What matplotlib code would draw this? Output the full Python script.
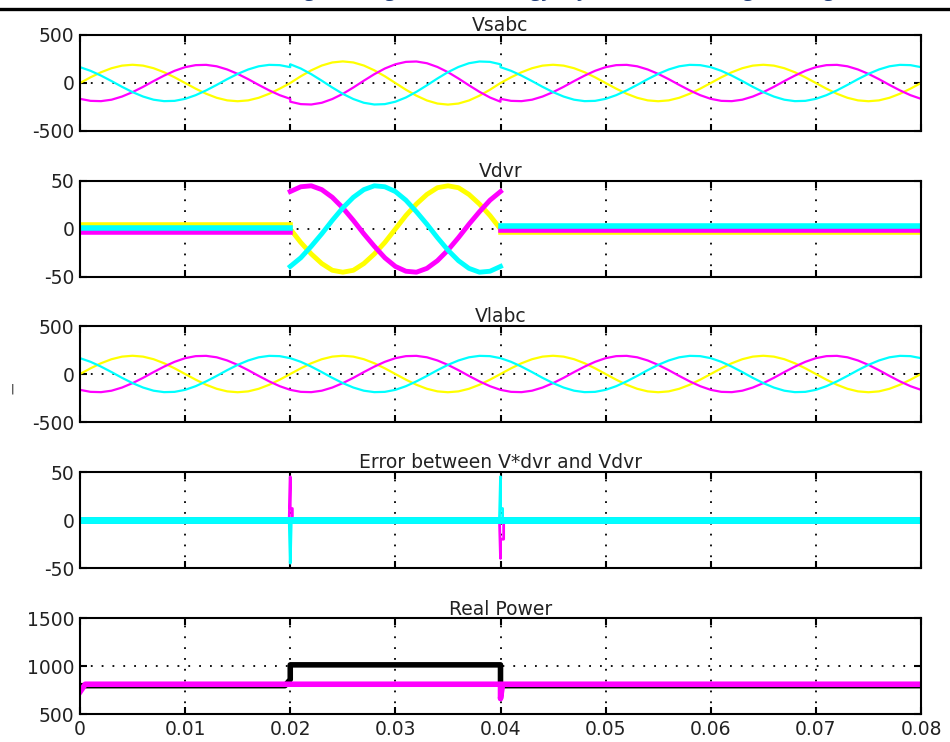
import numpy as np
import matplotlib.pyplot as plt
from matplotlib.lines import Line2D

# one 20 ms cycle of load voltage, read every 1 ms (yellow, magenta, cyan)
vlCycleA = [0, 59, 112, 154, 181, 190, 181, 154, 112, 59, 0, -59, -112, -154, -181, -190, -181, -154, -112, -59]
vlCycleB = [-165, -186, -189, -174, -141, -95, -40, 20, 77, 127, 165, 186, 189, 174, 141, 95, 40, -20, -77, -127]
vlCycleC = [165, 127, 77, 20, -40, -95, -141, -174, -189, -186, -165, -127, -77, -20, 40, 95, 141, 174, 189, 186]

# source voltage during the swell (0.02 - 0.04 s)
vsSwellA = [0, 70, 132, 182, 214, 225, 214, 182, 132, 70, 0, -70, -132, -182, -214, -225, -214, -182, -132, -70]
vsSwellB = [-195, -220, -224, -206, -167, -113, -47, 24, 92, 151, 195, 220, 224, 206, 167, 113, 47, -24, -92, -151]
vsSwellC = [195, 151, 92, 24, -47, -113, -167, -206, -224, -220, -195, -151, -92, -24, 47, 113, 167, 206, 224, 220]

# injected dvr voltage during the swell
vdvrSwellA = [0, -14, -26, -36, -43, -45, -43, -36, -26, -14, 0, 14, 26, 36, 43, 45, 43, 36, 26, 14]
vdvrSwellB = [39, 44, 45, 41, 33, 22, 9, -5, -18, -30, -39, -44, -45, -41, -33, -22, -9, 5, 18, 30]
vdvrSwellC = [-39, -30, -18, -5, 9, 22, 33, 41, 45, 44, 39, 30, 18, 5, -9, -22, -33, -41, -45, -44]
# ripple level of dvr voltage outside the swell (before, after)
vdvrRestA = [4, -3]
vdvrRestB = [-3, -1]
vdvrRestC = [1, 3]

# error between reference and dvr voltage, spikes at switching instants
errMagT = [0.0199, 0.02, 0.02, 0.0202, 0.0202, 0.0399, 0.04, 0.04, 0.0403, 0.0403]
errMagV = [0, 45, 12, 12, 0, 0, -40, -20, -20, 0]
errCyanT = [0.0199, 0.02, 0.0201, 0.0399, 0.04, 0.04, 0.0402, 0.0402]
errCyanV = [0, -45, 0, 0, 45, 12, 12, 0]

# real power
pLoadT = [0, 0.0195, 0.02, 0.02, 0.04, 0.04, 0.08]
pLoadV = [795, 795, 860, 1012, 1012, 795, 795]
pSrcT = [0, 0.0005, 0.0399, 0.04, 0.04, 0.0402, 0.08]
pSrcV = [730, 810, 810, 810, 660, 810, 810]

titles = ["Vsabc", "Vdvr", "Vlabc", "Error between V*dvr and Vdvr", "Real Power"]
yLimits = [(-500, 500), (-50, 50), (-500, 500), (-50, 50), (500, 1500)]
xTicks = [0, 0.01, 0.02, 0.03, 0.04, 0.05, 0.06, 0.07, 0.08]
xTickLabels = ["0", "0.01", "0.02", "0.03", "0.04", "0.05", "0.06", "0.07", "0.08"]

yel = "#ffff00"
mag = "#ff00ff"
cya = "#00ffff"

plt.rcParams['font.family'] = 'DejaVu Sans'
plt.rcParams['font.size'] = 13.5

fig = plt.figure(figsize=(9.5, 7.42), dpi=100)
W, H = 950.0, 742.0
tops = [35, 181, 326, 472, 618]
axs = []
for top in tops:
    axs.append(fig.add_axes([80 / W, 1 - (top + 96) / H, 841 / W, 96 / H]))

dt = 0.001
t81 = np.arange(81) * dt
tCyc = np.arange(21) * dt

def fullWave(cyc):
    return np.append(np.tile(cyc, 4), cyc[0])

def swellWave(norm, swell):
    tt = np.concatenate([tCyc, tCyc + 0.02, np.arange(41) * dt + 0.04])
    vv = np.concatenate([np.append(norm, norm[0]), np.append(swell, swell[0]),
                         np.append(np.tile(norm, 2), norm[0])])
    return tt, vv

# Vsabc
ax = axs[0]
for norm, swell, c in [(vlCycleA, vsSwellA, yel), (vlCycleB, vsSwellB, mag), (vlCycleC, vsSwellC, cya)]:
    tt, vv = swellWave(norm, swell)
    ax.plot(tt, vv, color=c, lw=1.6)

# Vdvr
ax = axs[1]
for rest, swell, c in [(vdvrRestA, vdvrSwellA, yel), (vdvrRestB, vdvrSwellB, mag), (vdvrRestC, vdvrSwellC, cya)]:
    ax.plot([0, 0.02], [rest[0], rest[0]], color=c, lw=4)
    ax.plot(tCyc + 0.02, np.append(swell, swell[0]), color=c, lw=3.5)
    ax.plot([0.04, 0.08], [rest[1], rest[1]], color=c, lw=4)

# Vlabc
ax = axs[2]
for cyc, c in [(vlCycleA, yel), (vlCycleB, mag), (vlCycleC, cya)]:
    ax.plot(t81, fullWave(cyc), color=c, lw=1.6)

# error
ax = axs[3]
ax.plot([0, 0.08], [0, 0], color=yel, lw=5)
ax.plot([0, 0.08], [0, 0], color=mag, lw=5)
ax.plot(errMagT, errMagV, color=mag, lw=2)
ax.plot([0, 0.08], [0, 0], color=cya, lw=5)
ax.plot(errCyanT, errCyanV, color=cya, lw=2)

# power
ax = axs[4]
ax.plot(pLoadT, pLoadV, color="k", lw=4)
ax.plot(pSrcT, pSrcV, color=mag, lw=4)

for i, ax in enumerate(axs):
    ax.set_xlim(0, 0.08)
    ax.set_ylim(yLimits[i])
    lo, hi = yLimits[i]
    ax.set_yticks([lo, (lo + hi) / 2, hi])
    ax.set_yticklabels([str(lo), str(int((lo + hi) / 2)), str(hi)])
    ax.set_xticks(xTicks)
    if i == 4:
        ax.set_xticklabels(xTickLabels)
    else:
        ax.set_xticklabels([])
    ax.tick_params(direction='in', top=True, right=True, length=5, width=1.5,
                   colors='k', labelcolor='#222222', pad=4)
    for s in ax.spines.values():
        s.set_linewidth(1.5)
    ax.grid(True, color='k', linestyle=(0, (1, 5)), linewidth=1.3)
    ax.set_title(titles[i], fontsize=13.5, pad=2, color='#222222')

# page header, cut at the top edge of the page
fig.text(197 / W, 1 + 4 / H, "International Journal of Innovative Research in ", ha='right', va='baseline',
         fontsize=14, fontweight='bold', color='#1f3c78', family='Open Sans')
fig.text(197 / W, 1 + 4 / H, "Science, Engineering and Technology, Dynamic Power Engineering", ha='left',
         va='baseline', fontsize=14, fontweight='bold', color='#1f3c78', family='Open Sans')
fig.add_artist(Line2D([0, 1], [1 - 8.5 / H, 1 - 8.5 / H], transform=fig.transFigure, color='k', lw=2.4))
fig.text(12 / W, 1 - 389 / H, "|", fontsize=8, ha='center', va='center')

fig.savefig("out.png", dpi=100)
